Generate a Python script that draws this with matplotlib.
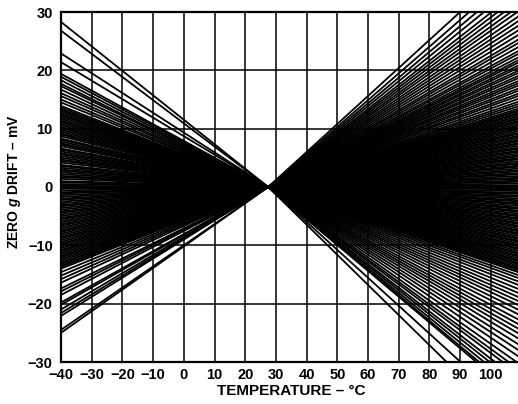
import matplotlib
matplotlib.use('Agg')
import matplotlib.pyplot as plt

plt.rcParams['font.family'] = ['Liberation Sans', 'DejaVu Sans']
plt.rcParams['font.weight'] = 'bold'
plt.rcParams['mathtext.fontset'] = 'custom'
plt.rcParams['mathtext.it'] = 'Liberation Sans:italic:bold'
plt.rcParams['mathtext.rm'] = 'Liberation Sans:bold'

# all traces pass through the same point near room temperature
centerTemp = 27.5
centerDrift = 0.0
leftTemp = -40
rightTemp = 110

# drift (mV) of each part read at -40 C, top to bottom
leftTop = [28.3, 26.8, 22.9, 21.4, 19.4, 18.9, 18.3, 17.7, 17.3, 16.7, 16.1, 15.6, 15.0, 14.5, 13.9]
leftBand = [13.6, 13.3, 13.1, 12.8, 12.5, 12.3, 12.0, 11.7, 11.4, 11.2,
            10.9, 10.6, 10.3, 10.1, 9.8, 9.5, 9.2, 9.0, 8.7, 8.3,
            8.1, 7.8, 7.5, 7.3, 7.0, 6.6, 6.4, 6.1, 5.8, 5.6,
            5.3, 5.0, 4.7, 4.5, 4.2, 3.8, 3.6, 3.3, 3.0, 2.8,
            2.5, 2.2, 1.9, 1.7, 1.4, 1.0, 0.8, 0.5, 0.2, 0.0,
            -0.3, -0.6, -0.9, -1.1, -1.4, -1.7, -2.0, -2.2, -2.5, -2.8,
            -3.1, -3.3, -3.6, -3.9, -4.2, -4.4, -4.7, -5.0, -5.3, -5.5,
            -5.8, -6.1, -6.4, -6.6, -6.9, -7.2, -7.5, -7.7, -8.0, -8.3,
            -8.6, -8.8, -9.1, -9.4, -9.7, -9.9, -10.2, -10.5, -10.8, -11.0,
            -11.3, -11.6, -11.9, -12.1, -12.4, -12.7, -13.0, -13.2, -13.5, -13.7]
leftBottom = [-14.0, -14.6, -15.2, -15.8, -16.4, -17.4, -17.9, -18.5, -19.8, -20.2,
              -21.0, -21.6, -22.1, -24.5, -25.0]

# drift (mV) of each part at 110 C, bottom to top
rightBottom = [-42.6, -39.5, -36.5, -36.0, -35.2, -34.3, -33.5, -32.4, -31.6, -30.6,
               -29.4, -28.3, -27.3, -26.3, -25.4, -24.6, -23.8, -23.0, -22.1, -21.3,
               -20.5, -19.8, -19.1, -18.4, -17.7, -17.0, -16.4, -15.8, -15.3, -14.8]
rightBand = [-14.5, -14.2, -14.0, -13.7, -13.4, -13.2, -12.9, -12.7, -12.4, -12.1,
             -11.9, -11.6, -11.4, -11.1, -10.8, -10.6, -10.3, -10.1, -9.8, -9.5,
             -9.3, -9.0, -8.8, -8.5, -8.2, -8.0, -7.7, -7.5, -7.2, -6.9,
             -6.7, -6.4, -6.2, -5.9, -5.6, -5.4, -5.1, -4.9, -4.6, -4.3,
             -4.1, -3.8, -3.6, -3.3, -3.0, -2.8, -2.5, -2.3, -2.0, -1.7,
             -1.5, -1.2, -1.0, -0.7, -0.4, -0.2, 0.1, 0.3, 0.6, 0.9,
             1.1, 1.4, 1.6, 1.9, 2.2, 2.4, 2.7, 2.9, 3.2, 3.5,
             3.7, 4.0, 4.2, 4.5, 4.8, 5.0, 5.3, 5.5, 5.8, 6.1,
             6.3, 6.6, 6.8, 7.1, 7.4, 7.6, 7.9, 8.1, 8.4, 8.7,
             8.9, 9.2, 9.4, 9.7, 10.0, 10.2, 10.5, 10.7, 11.0, 11.3,
             11.5, 11.8, 12.0, 12.3, 12.6, 12.8, 13.1, 13.3]
rightTop = [13.6, 14.0, 14.4, 14.8, 15.3, 15.8, 16.2, 16.7, 17.1, 17.6,
            18.0, 18.4, 18.9, 19.3, 19.8, 20.2, 20.7, 21.1, 21.6, 22.0,
            22.5, 23.1, 23.6, 24.3, 25.0, 25.6, 26.4, 27.2, 28.0, 28.8,
            29.6, 30.5, 31.3, 32.2, 33.1, 34.0, 35.2, 36.4, 37.8, 39.6]

xTicks = [-40, -30, -20, -10, 0, 10, 20, 30, 40, 50, 60, 70, 80, 90, 100]
yTicks = [-30, -20, -10, 0, 10, 20, 30]


def Main():
    leftVals = leftTop + leftBand + leftBottom
    rightVals = rightBottom + rightBand + rightTop

    fig = plt.figure(figsize=(5.18, 4.04), dpi=100)
    ax = fig.add_axes([61 / 518, 42 / 404, 460.5 / 518, 350 / 404])

    # grid every 10 C / 10 mV
    for t in range(-40, 111, 10):
        ax.axvline(t, color='black', lw=1.1, zorder=1)
    for d in yTicks:
        ax.axhline(d, color='black', lw=1.1, zorder=1)

    # each trace drawn as cold half and hot half from the common point
    for yl in leftVals:
        ax.plot([leftTemp, centerTemp], [yl, centerDrift], color='black', lw=1.3, zorder=2)
    for yr in rightVals:
        ax.plot([centerTemp, rightTemp], [centerDrift, yr], color='black', lw=1.3, zorder=2)

    ax.set_xlim(-40, 110)
    ax.set_ylim(-30, 30)
    ax.set_xticks(xTicks)
    ax.set_yticks(yTicks)
    ax.tick_params(length=0, labelsize=10.5)
    ax.tick_params(axis='y', pad=6)
    ax.tick_params(axis='x', pad=4)

    for s in ['top', 'left', 'bottom']:
        ax.spines[s].set_linewidth(1.6)
    ax.spines['right'].set_visible(False)

    ax.set_xlabel('TEMPERATURE – °C', fontsize=11, fontweight='bold', labelpad=2)
    ax.set_ylabel('ZERO $\\mathit{g}$ DRIFT – mV', fontsize=10, fontweight='bold')
    ax.yaxis.set_label_coords(-0.082, 0.515)

    fig.savefig('out.png', dpi=100)


if __name__ == "__main__":
    Main()
